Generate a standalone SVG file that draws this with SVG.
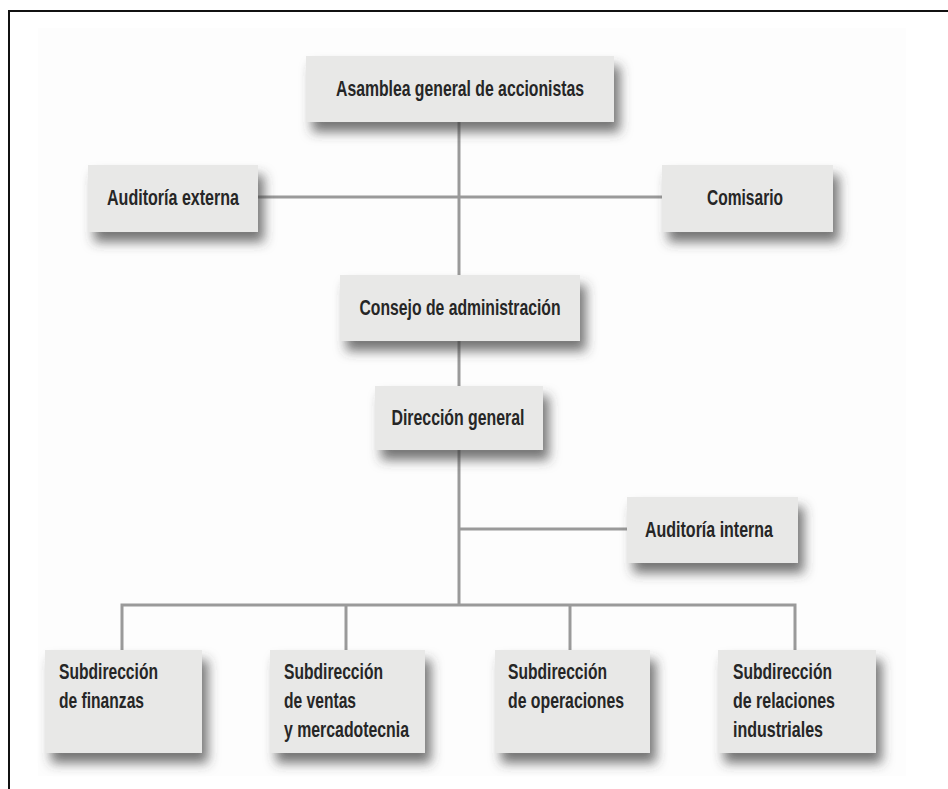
<svg xmlns="http://www.w3.org/2000/svg" width="948" height="789" viewBox="0 0 948 789">
<defs>
<filter id="sh" x="-20%" y="-30%" width="150%" height="190%">
<feDropShadow dx="6" dy="10" stdDeviation="6" flood-color="#3a3a3a" flood-opacity="0.7"/>
</filter>
<style>
.box{fill:#e8e8e7;filter:url(#sh)}
.t{font-family:"Liberation Sans",Arial,sans-serif;font-weight:bold;font-size:22px;fill:#262626}
.c{text-anchor:middle}
.ln{stroke:#9a9a9a;stroke-width:3;fill:none}
</style>
</defs>
<rect x="0" y="0" width="948" height="789" fill="#ffffff"/>
<rect x="38" y="28" width="868" height="748" fill="#fdfdfd"/>
<path d="M9,789 V11 H948" stroke="#111" stroke-width="2" fill="none"/>
<g id="connectors">
<path class="ln" d="M459,122 V275"/>
<path class="ln" d="M258,197 H662"/>
<path class="ln" d="M459,341 V386"/>
<path class="ln" d="M459,450 V605"/>
<path class="ln" d="M459,529 H627"/>
<path class="ln" d="M122,650 V605 H795 V650"/>
<path class="ln" d="M346,605 V650"/>
<path class="ln" d="M570,605 V650"/>
</g>
<g id="asamblea"><rect class="box" x="306" y="56" width="308" height="66"/><text class="t c" x="460" y="96" textLength="248" lengthAdjust="spacingAndGlyphs">Asamblea general de accionistas</text></g>
<g id="auditoria-externa"><rect class="box" x="88" y="165" width="170" height="67"/><text class="t c" x="173" y="205" textLength="132" lengthAdjust="spacingAndGlyphs">Auditoría externa</text></g>
<g id="comisario"><rect class="box" x="662" y="165" width="171" height="67"/><text class="t c" x="745" y="205" textLength="76" lengthAdjust="spacingAndGlyphs">Comisario</text></g>
<g id="consejo"><rect class="box" x="340" y="275" width="240" height="66"/><text class="t c" x="460" y="315" textLength="201" lengthAdjust="spacingAndGlyphs">Consejo de administración</text></g>
<g id="direccion"><rect class="box" x="375" y="386" width="168" height="64"/><text class="t c" x="458" y="425" textLength="133" lengthAdjust="spacingAndGlyphs">Dirección general</text></g>
<g id="auditoria-interna"><rect class="box" x="627" y="497" width="171" height="66"/><text class="t c" x="709" y="537" textLength="128" lengthAdjust="spacingAndGlyphs">Auditoría interna</text></g>
<g id="finanzas"><rect class="box" x="45" y="650" width="157" height="103"/><text class="t" x="59" y="679" textLength="99" lengthAdjust="spacingAndGlyphs">Subdirección</text><text class="t" x="59" y="708" textLength="85" lengthAdjust="spacingAndGlyphs">de finanzas</text></g>
<g id="ventas"><rect class="box" x="270" y="650" width="155" height="103"/><text class="t" x="284" y="679" textLength="99" lengthAdjust="spacingAndGlyphs">Subdirección</text><text class="t" x="284" y="708" textLength="72" lengthAdjust="spacingAndGlyphs">de ventas</text><text class="t" x="284" y="737" textLength="125" lengthAdjust="spacingAndGlyphs">y mercadotecnia</text></g>
<g id="operaciones"><rect class="box" x="495" y="650" width="155" height="103"/><text class="t" x="508" y="679" textLength="99" lengthAdjust="spacingAndGlyphs">Subdirección</text><text class="t" x="508" y="708" textLength="116" lengthAdjust="spacingAndGlyphs">de operaciones</text></g>
<g id="relaciones"><rect class="box" x="718" y="650" width="158" height="103"/><text class="t" x="733" y="679" textLength="99" lengthAdjust="spacingAndGlyphs">Subdirección</text><text class="t" x="733" y="708" textLength="102" lengthAdjust="spacingAndGlyphs">de relaciones</text><text class="t" x="733" y="737" textLength="90" lengthAdjust="spacingAndGlyphs">industriales</text></g>
</svg>
